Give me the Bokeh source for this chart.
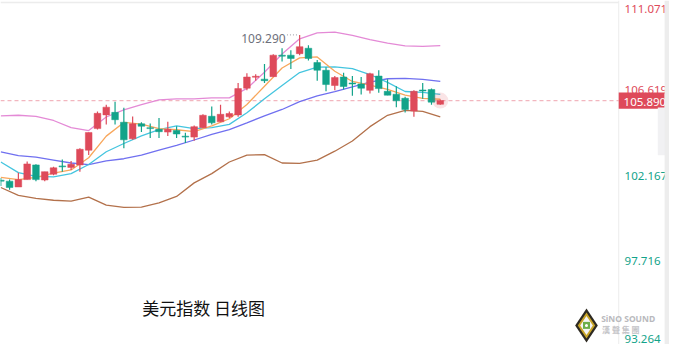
from bokeh.plotting import figure
from bokeh.models import Range1d
from bokeh.core.properties import value
from bokeh.embed import file_html
from bokeh.resources import INLINE

# ---------------- data ----------------
opens = [101.73, 101.72, 101.42, 101.80, 102.56, 101.78, 102.08, 102.47, 102.43, 102.56,
         103.32, 104.44, 105.15, 105.28, 104.77, 103.91, 104.69, 104.45, 104.40, 104.26,
         104.34, 104.01, 104.00, 104.49, 105.08, 104.79, 105.05, 105.15, 106.53, 107.10,
         107.00, 107.13, 108.20, 108.24, 108.32, 108.60, 107.86, 107.46, 106.67, 107.11,
         106.76, 106.75, 106.42, 107.16, 106.37, 106.22, 106.01, 105.35, 106.40, 106.46,
         105.70]
closes = [101.72, 101.39, 101.80, 102.61, 101.80, 102.21, 102.41, 102.46, 102.59, 103.37,
          104.24, 105.23, 105.55, 104.90, 103.86, 104.69, 104.56, 104.44, 104.28, 104.40,
          104.16, 104.00, 104.54, 105.13, 104.74, 105.18, 105.22, 106.51, 107.11, 107.11,
          106.92, 108.24, 108.19, 108.07, 108.68, 108.07, 107.46, 106.72, 107.08, 106.62,
          106.75, 106.53, 107.28, 106.51, 106.17, 105.88, 105.43, 106.37, 106.39, 105.81,
          105.89]
highs = [101.88, 101.80, 102.16, 102.74, 102.59, 102.21, 102.46, 102.84, 102.76, 103.42,
         104.24, 105.32, 105.68, 105.83, 105.52, 105.07, 104.77, 104.70, 104.99, 104.80,
         104.56, 104.23, 104.60, 105.18, 105.59, 105.68, 105.32, 106.80, 107.30, 107.25,
         107.79, 108.29, 108.60, 108.49, 109.29, 108.76, 107.99, 107.61, 107.16, 107.33,
         107.16, 107.11, 107.33, 107.46, 107.00, 106.63, 106.09, 106.42, 106.80, 106.51,
         105.95]
lows = [101.47, 101.27, 101.42, 101.80, 101.72, 101.72, 102.02, 102.21, 102.30, 102.21,
        103.07, 104.39, 104.65, 104.65, 103.42, 103.86, 104.26, 103.95, 103.95, 104.06,
        103.95, 103.70, 103.81, 104.48, 104.65, 104.79, 104.99, 105.05, 106.42, 106.92,
        106.80, 107.13, 107.91, 107.53, 108.24, 107.96, 106.92, 106.37, 106.42, 106.47,
        106.14, 106.21, 106.26, 106.29, 106.17, 105.55, 105.27, 105.05, 105.98, 105.68,
        105.68]

line_idx = list(range(0, 51, 2))
ma5 = [101.92, 101.80, 101.92, 102.14, 102.30, 102.93, 104.05, 104.76, 104.67, 104.44,
       104.38, 104.28, 104.58, 104.95, 105.69, 106.63, 107.58, 108.10, 108.15, 107.41,
       106.88, 106.69, 106.47, 106.17, 106.00, 105.96]
ma10 = [102.71, 102.16, 101.97, 101.94, 102.11, 102.58, 103.24, 103.67, 104.06, 104.39,
        104.58, 104.44, 104.49, 104.66, 105.26, 105.98, 106.67, 107.34, 107.62, 107.63,
        107.54, 107.24, 106.83, 106.36, 106.32, 106.21]
ma20 = [103.24, 103.04, 102.96, 102.81, 102.66, 102.58, 102.77, 102.88, 103.07, 103.33,
        103.57, 103.85, 104.14, 104.39, 104.74, 105.10, 105.43, 105.84, 106.14, 106.36,
        106.60, 106.85, 107.02, 107.04, 106.99, 106.88]
boll_up = [105.10, 105.13, 105.07, 104.86, 104.49, 104.34, 105.04, 105.41, 105.68, 105.93,
           105.98, 105.98, 106.03, 106.03, 106.52, 107.36, 108.30, 109.09, 109.39, 109.43,
           109.27, 109.05, 108.87, 108.72, 108.70, 108.73]
boll_dn = [101.39, 100.98, 100.83, 100.73, 100.69, 100.89, 100.48, 100.36, 100.37, 100.60,
           100.93, 101.63, 102.11, 102.71, 103.07, 103.09, 102.66, 102.64, 102.81, 103.27,
           103.80, 104.54, 105.13, 105.38, 105.33, 105.05]

axis_ticks = [93.264, 97.716, 102.167, 106.619, 111.071]
tick_labels = ["93.264", "97.716", "102.167", "106.619", "111.071"]
last_price = 105.890
last_label = "105.890"
peak_label = "109.290"
title_text = "美元指数 日线图"
logo_en = "SiNO SOUND"
logo_cn = "漢  聲  集  團"

# ---------------- layout helpers ----------------
W, H = 669, 344
REF_W, REF_H = 685, 360
STEP = 9.0                      # reference pixels per candle
X0 = -0.3 / STEP
X1 = X0 + REF_W / STEP
Y_MIN, Y_MAX = axis_ticks[0], axis_ticks[-1]
PPU = REF_H / (Y_MAX - Y_MIN)   # reference pixels per price unit


def rx(px):
    return X0 + px / STEP


def ry(py):
    return Y_MAX - py / PPU


RED = "#de4a5a"
GREEN = "#12a38a"
FONT = value("Noto Sans")
CJK = value("Noto Sans CJK SC")

p = figure(width=W, height=H, x_range=Range1d(X0, X1), y_range=Range1d(Y_MIN, Y_MAX),
           output_backend="svg", toolbar_location=None, min_border=0,
           x_axis_location=None, y_axis_location=None)
p.grid.visible = False
p.outline_line_color = None
p.background_fill_color = "white"

# frame lines
sep_x = rx(633)
p.segment(x0=[X0], x1=[sep_x], y0=[ry(2)], y1=[ry(2)], line_color="#ececec", line_width=1.5)
p.segment(x0=[sep_x], x1=[sep_x], y0=[Y_MIN], y1=[Y_MAX], line_color="#ececec", line_width=1)

# current price dashed line
p.segment(x0=[X0], x1=[sep_x], y0=[last_price], y1=[last_price],
          line_color="#f2b6bf", line_width=1.2, line_dash="4 3")

# indicator lines
p.line(line_idx, boll_up, line_color="#e48ad6", line_width=1.3)
p.line(line_idx, boll_dn, line_color="#b3714b", line_width=1.3)
p.line(line_idx, ma20, line_color="#7070f0", line_width=1.3)
p.line(line_idx, ma10, line_color="#45c5df", line_width=1.3)
p.line(line_idx, ma5, line_color="#f8a75c", line_width=1.3)

# candles
idx = list(range(len(opens)))
colors = [RED if c >= o else GREEN for o, c in zip(opens, closes)]
min_h = 1.0 / PPU
tops = [max(o, c) for o, c in zip(opens, closes)]
bots = [min(o, c) for o, c in zip(opens, closes)]
tops = [t if t - b >= min_h else b + min_h for t, b in zip(tops, bots)]
p.segment(x0=idx, x1=idx, y0=lows, y1=highs, line_color=colors, line_width=1.2)
p.vbar(x=idx, width=0.76, top=tops, bottom=bots, fill_color=colors, line_color=colors, line_width=0.5)

# glow on last candle
p.scatter(x=[idx[-1]], y=[closes[-1]], size=16, fill_color=RED, fill_alpha=0.15, line_alpha=0)

# peak label
pk = max(range(len(highs)), key=lambda i: highs[i])
p.segment(x0=[pk - 13 / STEP], x1=[pk - 1 / STEP], y0=[highs[pk]], y1=[highs[pk]],
          line_color="#9a9aa4", line_width=1, line_dash="1 2")
p.text(x=[pk], y=[highs[pk]], text=[peak_label], x_offset=-14, y_offset=4,
       text_align="right", text_baseline="middle", text_color="#6e707b",
       text_font=FONT, text_font_size="12px")

# right axis labels
for v, lab in zip(axis_ticks, tick_labels):
    col = RED if v > last_price else GREEN
    if v == Y_MAX:
        base, off = "top", 4
    elif v == Y_MIN:
        base, off = "bottom", -2
    else:
        base, off = "middle", 3
    p.text(x=[rx(639)], y=[v], text=[lab], text_align="left", text_baseline=base,
           y_offset=off, text_color=col, text_font=FONT, text_font_size="11.5px")

# last price badge
half = 8.5 / PPU
p.quad(left=[sep_x], right=[rx(680)], top=[last_price + half], bottom=[last_price - half],
       fill_color=RED, line_color=None)
p.text(x=[rx(638)], y=[last_price], text=[last_label], text_align="left", text_baseline="middle",
       y_offset=1, text_color="white", text_font=FONT, text_font_size="11.5px")

# small side tab and right strip
p.quad(left=[rx(673)], right=[rx(681)], top=[ry(112)], bottom=[ry(162)],
       fill_color="#f1f1f3", line_color=None)
p.quad(left=[rx(680)], right=[X1], top=[Y_MAX], bottom=[Y_MIN], fill_color="#ededed", line_color=None)

# title
p.text(x=[rx(208)], y=[ry(321)], text=[title_text], text_align="center", text_baseline="middle",
       text_color="#111111", text_font=CJK, text_font_size="17px")

# logo
lx, ly = rx(600), ry(340)
p.scatter(x=[lx], y=[ly], marker="diamond", size=34, fill_color="#2e2a22", line_color=None)
p.scatter(x=[lx], y=[ly], marker="diamond", size=26, fill_color="#c9a528", line_color=None)
p.scatter(x=[lx], y=[ly], marker="diamond", size=19, fill_color="#f4f4f4", line_color=None)
p.scatter(x=[lx], y=[ly], marker="square", size=7, fill_color="#6cae4a", line_color=None)
p.scatter(x=[lx], y=[ly], marker="circle", size=3, fill_color="white", line_color=None)
p.text(x=[rx(615)], y=[ry(333)], text=[logo_en], text_align="left", text_baseline="middle",
       text_color="#b9b9bd", text_font=FONT, text_font_size="8.5px", text_font_style="bold")
p.text(x=[rx(616)], y=[ry(344)], text=[logo_cn], text_align="left", text_baseline="middle",
       text_color="#c4c4c8", text_font=CJK, text_font_size="8px", text_font_style="bold")

open("out.html", "w").write(file_html(p, INLINE))
